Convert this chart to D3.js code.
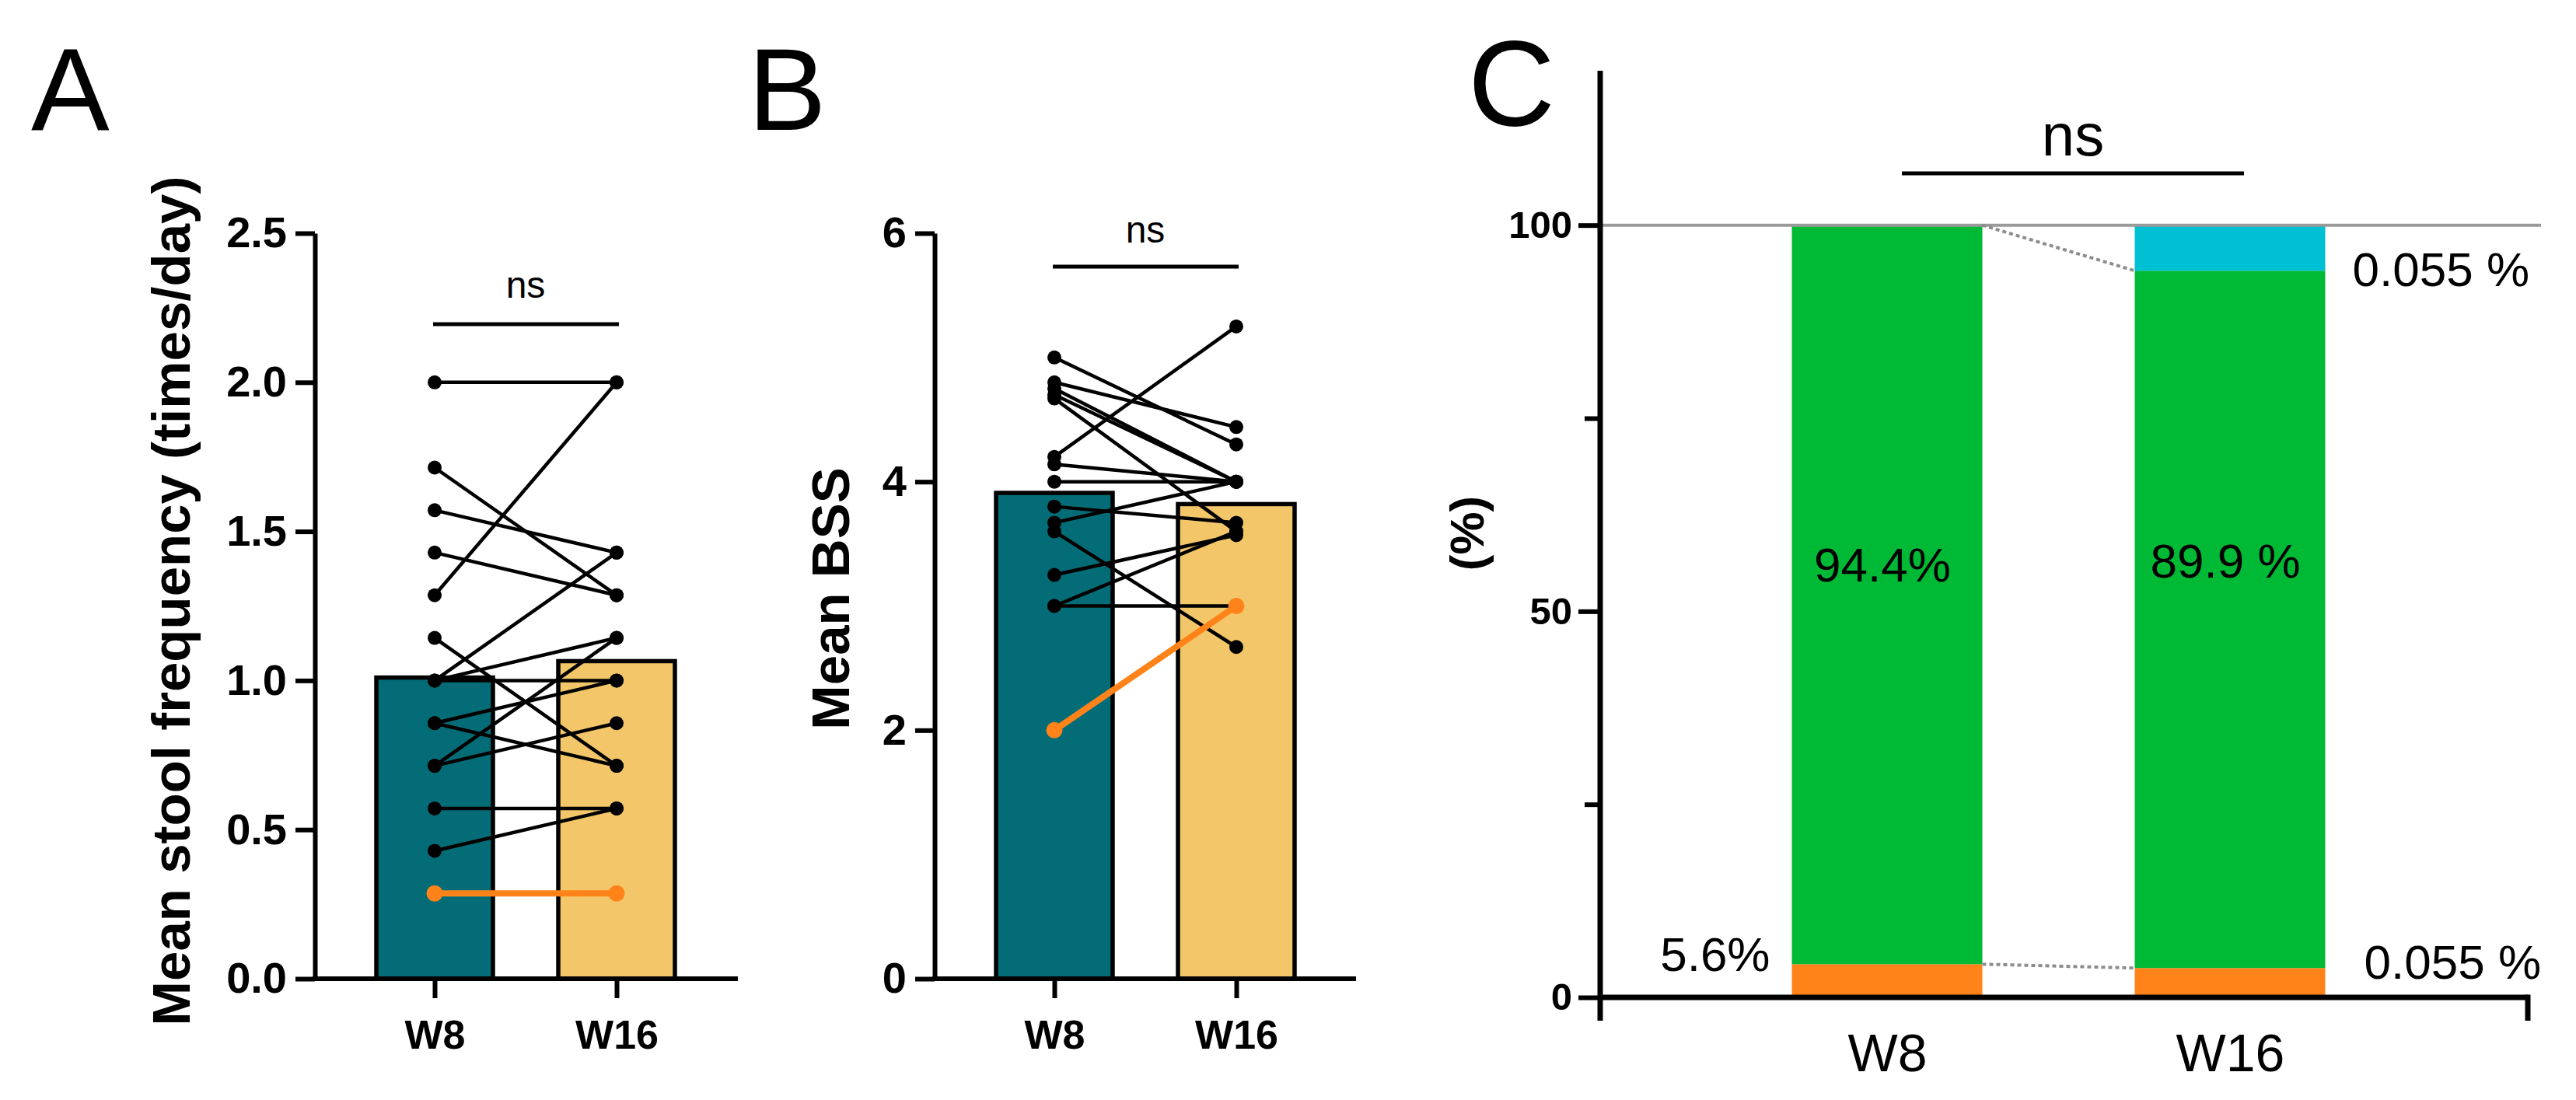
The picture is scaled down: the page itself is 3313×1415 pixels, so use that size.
<!DOCTYPE html>
<html>
<head>
<meta charset="utf-8">
<script src="https://cdn.jsdelivr.net/npm/d3@7"></script>
<style>
  body { margin: 0; background: #fff; }
</style>
</head>
<body>
<div id="figure"></div>
<script>
// 1: DATA
const groups = ["W8", "W16"];

// panel A - mean stool frequency, one W8/W16 pair per subject
const freqW8  = [2.0, 1.286, 1.714, 1.571, 1.429, 1.143, 1.0, 1.0, 1.0, 0.857, 0.857, 0.714, 0.714, 0.571, 0.429];
const freqW16 = [2.0, 2.0, 1.286, 1.429, 1.286, 0.714, 1.429, 1.143, 1.0, 1.0, 0.714, 1.143, 0.857, 0.571, 0.571];
const freqOrange = [0.286, 0.286];
const freqMeans = [1.01, 1.065];
const freqTicks = [0, 0.5, 1.0, 1.5, 2.0, 2.5];

// panel B - mean BSS
const bssW8  = [5.0, 4.8, 4.75, 4.7, 4.67, 4.2, 4.14, 4.0, 3.8, 3.67, 3.6, 3.25, 3.0, 3.0];
const bssW16 = [4.3, 4.44, 4.0, 4.0, 3.6, 5.25, 4.0, 4.0, 3.67, 4.0, 2.67, 3.57, 3.6, 3.0];
const bssOrange = [2.0, 3.0];
const bssMeans = [3.91, 3.82];
const bssTicks = [0, 2, 4, 6];

// panel C - composition (%)
const compOrange = [4.3, 3.8];
const compGreen = [95.7, 90.3];
const compCyan = [0, 5.9];
const pctTicks = [0, 50, 100];
const pctMinorTicks = [25, 75];
const compLabels = [
    { text: "94.4%", group: "W8", value: 56, anchor: "middle" },
    { text: "89.9 %", group: "W16", value: 56.5, anchor: "middle" },
    { text: "5.6%", group: "W8", value: 5.6, anchor: "end" },
    { text: "0.055 %", group: "W16", value: 94.3, anchor: "start" },
    { text: "0.055 %", group: "W16", value: 4.6, anchor: "start" }
];

const fontFam = "'Liberation Sans', Arial, Helvetica, sans-serif";
const barColors = ["#036c77", "#f3c769"];
const orange = "#ff8318";
const stackColors = { orange: "#ff8318", green: "#00b934", cyan: "#00c0d4" };

const svg = d3.select("#figure")
    .append("svg")
    .attr("width", 3313)
    .attr("height", 1415)
    .style("font-family", fontFam);

// 2: PAIRED BAR PANELS (A and B)
function pairedPanel(opts) {
    const g = svg.append("g");

    const x = d3.scalePoint().domain(groups).range(opts.xRange);
    const y = d3.scaleLinear().domain(opts.yDomain).range([1259, 300]);

    // mean bars
    g.selectAll(".bar")
        .data(groups)
        .enter()
        .append("rect")
        .attr("class", "bar")
        .attr("x", d => x(d) - 75)
        .attr("width", 150)
        .attr("y", (d, i) => y(opts.means[i]))
        .attr("height", (d, i) => y(0) - y(opts.means[i]))
        .attr("fill", (d, i) => barColors[i])
        .attr("stroke", "#000")
        .attr("stroke-width", 5.5);

    const pairs = opts.w8.map((v, i) => [v, opts.w16[i]]);
    const line = d3.line()
        .x((d, i) => x(groups[i]))
        .y(d => y(d));

    g.selectAll(".pair")
        .data(pairs)
        .enter()
        .append("path")
        .attr("d", line)
        .attr("fill", "none")
        .attr("stroke", "#000")
        .attr("stroke-width", 4.5);

    const dots = pairs.flatMap(p => p.map((v, i) => ({ group: groups[i], v })));
    g.selectAll(".dot")
        .data(dots)
        .enter()
        .append("circle")
        .attr("cx", d => x(d.group))
        .attr("cy", d => y(d.v))
        .attr("r", 9)
        .attr("fill", "#000");

    // highlighted subject in orange
    g.append("path")
        .datum(opts.orange)
        .attr("d", line)
        .attr("fill", "none")
        .attr("stroke", orange)
        .attr("stroke-width", 8);

    g.selectAll(".odot")
        .data(opts.orange)
        .enter()
        .append("circle")
        .attr("cx", (d, i) => x(groups[i]))
        .attr("cy", d => y(d))
        .attr("r", 10.5)
        .attr("fill", orange);

    // axes
    const yAxis = g.append("g")
        .attr("transform", `translate(${opts.axisX},0)`)
        .call(d3.axisLeft(y).tickValues(opts.ticks).tickFormat(opts.fmt)
            .tickSize(25).tickSizeOuter(0).tickPadding(11));
    yAxis.attr("font-family", fontFam);
    yAxis.select(".domain").attr("stroke-width", 6);
    yAxis.selectAll(".tick line").attr("stroke-width", 6);
    yAxis.selectAll(".tick text")
        .attr("font-size", 56)
        .attr("font-weight", "bold")
        .attr("fill", "#000");

    g.append("line")
        .attr("x1", opts.axisX - 3)
        .attr("x2", opts.xEnd)
        .attr("y1", y(0))
        .attr("y2", y(0))
        .attr("stroke", "#000")
        .attr("stroke-width", 6);

    const xAxis = g.append("g")
        .attr("transform", `translate(0,${y(0)})`)
        .call(d3.axisBottom(x).tickSize(25).tickPadding(28));
    xAxis.attr("font-family", fontFam);
    xAxis.select(".domain").remove();
    xAxis.selectAll(".tick line").attr("stroke-width", 6);
    xAxis.selectAll(".tick text")
        .attr("font-size", 52)
        .attr("font-weight", "bold")
        .attr("fill", "#000");

    // ns bracket
    g.append("line")
        .attr("x1", x("W8") - 2)
        .attr("x2", x("W16") + 3)
        .attr("y1", opts.nsLineY)
        .attr("y2", opts.nsLineY)
        .attr("stroke", "#000")
        .attr("stroke-width", 5);

    g.append("text")
        .attr("x", (x("W8") + x("W16")) / 2)
        .attr("y", opts.nsTextY)
        .attr("text-anchor", "middle")
        .attr("font-size", 48)
        .text("ns");

    // y title
    g.append("text")
        .attr("transform", `translate(${opts.titleX},${opts.titleY}) rotate(-90)`)
        .attr("text-anchor", "middle")
        .attr("font-size", 69)
        .attr("font-weight", "bold")
        .text(opts.title);

    // panel letter
    g.append("text")
        .attr("x", opts.letterX)
        .attr("y", 167)
        .attr("font-size", 151)
        .text(opts.letter);
}

pairedPanel({
    letter: "A", letterX: 40,
    xRange: [559, 793], axisX: 405, xEnd: 949,
    yDomain: [0, 2.5], ticks: freqTicks, fmt: d3.format(".1f"),
    means: freqMeans, w8: freqW8, w16: freqW16, orange: freqOrange,
    nsLineY: 417, nsTextY: 383,
    title: "Mean stool frequency (times/day)", titleX: 244, titleY: 773
});

pairedPanel({
    letter: "B", letterX: 962,
    xRange: [1356, 1590], axisX: 1202, xEnd: 1744,
    yDomain: [0, 6], ticks: bssTicks, fmt: d3.format("d"),
    means: bssMeans, w8: bssW8, w16: bssW16, orange: bssOrange,
    nsLineY: 343, nsTextY: 312,
    title: "Mean BSS", titleX: 1092, titleY: 770
});

// 3: STACKED PANEL (C)
const gC = svg.append("g");
const xC = d3.scalePoint().domain(groups).range([2427, 2868]);
const yC = d3.scaleLinear().domain([0, 120]).range([1283, 91]);
const barW = 245;
const axisXC = 2058;

const compRows = groups.map((g, i) => ({
    group: g, orange: compOrange[i], green: compGreen[i], cyan: compCyan[i]
}));
const stacked = d3.stack().keys(["orange", "green", "cyan"])(compRows);

gC.selectAll(".layer")
    .data(stacked)
    .enter()
    .append("g")
    .attr("fill", d => stackColors[d.key])
    .selectAll("rect")
    .data(d => d)
    .enter()
    .append("rect")
    .attr("x", d => xC(d.data.group) - barW / 2)
    .attr("width", barW)
    .attr("y", d => yC(d[1]))
    .attr("height", d => yC(d[0]) - yC(d[1]));

// 100% reference line
gC.append("line")
    .attr("x1", axisXC)
    .attr("x2", 3268)
    .attr("y1", yC(100))
    .attr("y2", yC(100))
    .attr("stroke", "#9a9a9a")
    .attr("stroke-width", 4);

// dotted connectors between the bars
const connectors = [
    [100, compOrange[1] + compGreen[1]],
    [compOrange[0], compOrange[1]]
];
gC.selectAll(".conn")
    .data(connectors)
    .enter()
    .append("line")
    .attr("x1", xC("W8") + barW / 2)
    .attr("x2", xC("W16") - barW / 2)
    .attr("y1", d => yC(d[0]))
    .attr("y2", d => yC(d[1]))
    .attr("stroke", "#8c8c8c")
    .attr("stroke-width", 4)
    .attr("stroke-dasharray", "5,4");

// axes
gC.append("line")
    .attr("x1", axisXC).attr("x2", axisXC)
    .attr("y1", yC(120)).attr("y2", yC(0) + 30)
    .attr("stroke", "#000").attr("stroke-width", 7);
gC.append("line")
    .attr("x1", axisXC).attr("x2", 3251)
    .attr("y1", yC(0)).attr("y2", yC(0))
    .attr("stroke", "#000").attr("stroke-width", 7);
gC.append("line")
    .attr("x1", 3251).attr("x2", 3251)
    .attr("y1", yC(0) - 3.5).attr("y2", yC(0) + 30)
    .attr("stroke", "#000").attr("stroke-width", 7);

const yAxisC = gC.append("g")
    .attr("transform", `translate(${axisXC},0)`)
    .call(d3.axisLeft(yC).tickValues(pctTicks).tickSize(28).tickPadding(8));
yAxisC.attr("font-family", fontFam);
yAxisC.select(".domain").remove();
yAxisC.selectAll(".tick line").attr("stroke-width", 6);
yAxisC.selectAll(".tick text")
    .attr("font-size", 49)
    .attr("font-weight", "bold")
    .attr("fill", "#000");

const yMinorC = gC.append("g")
    .attr("transform", `translate(${axisXC},0)`)
    .call(d3.axisLeft(yC).tickValues(pctMinorTicks).tickSize(20).tickFormat(""));
yMinorC.select(".domain").remove();
yMinorC.selectAll(".tick line").attr("stroke-width", 6);

const xAxisC = gC.append("g")
    .attr("transform", `translate(0,${yC(0)})`)
    .call(d3.axisBottom(xC).tickSize(0).tickPadding(47));
xAxisC.attr("font-family", fontFam);
xAxisC.select(".domain").remove();
xAxisC.selectAll(".tick text")
    .attr("font-size", 68)
    .attr("fill", "#000");

// value labels
gC.selectAll(".clabel")
    .data(compLabels)
    .enter()
    .append("text")
    .attr("x", d => d.anchor === "middle" ? xC(d.group) - 6
        : d.anchor === "end" ? xC(d.group) - barW / 2 - 28
        : xC(d.group) + barW / 2 + (d.value > 50 ? 35 : 50))
    .attr("y", d => yC(d.value))
    .attr("dy", "0.35em")
    .attr("text-anchor", d => d.anchor)
    .attr("font-size", 62)
    .text(d => d.text);

// ns bracket
gC.append("line")
    .attr("x1", 2446).attr("x2", 2886)
    .attr("y1", 223).attr("y2", 223)
    .attr("stroke", "#000").attr("stroke-width", 5);
gC.append("text")
    .attr("x", 2666)
    .attr("y", 200)
    .attr("text-anchor", "middle")
    .attr("font-size", 76)
    .text("ns");

// y title and letter
gC.append("text")
    .attr("transform", "translate(1908,686) rotate(-90)")
    .attr("text-anchor", "middle")
    .attr("font-size", 62)
    .attr("font-weight", "bold")
    .text("(%)");

gC.append("text")
    .attr("x", 1888)
    .attr("y", 161)
    .attr("font-size", 155)
    .text("C");
</script>
</body>
</html>
